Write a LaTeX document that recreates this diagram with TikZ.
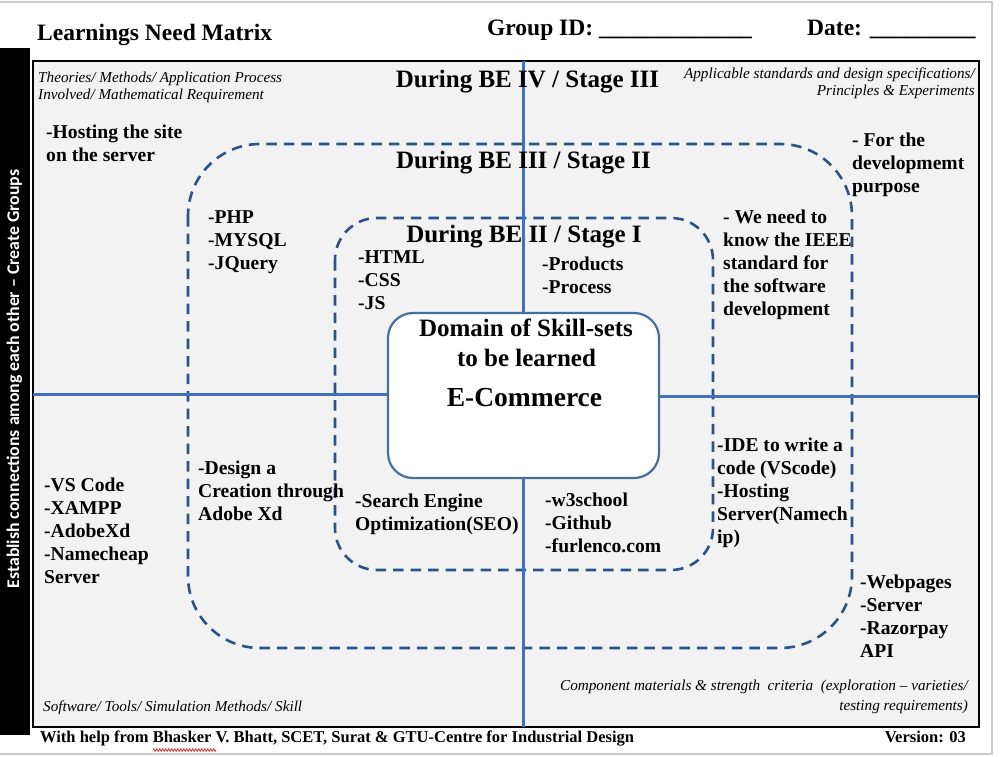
\documentclass[tikz,border=0pt]{standalone}
\usepackage{fontspec}
\setmainfont{Liberation Serif}
\newfontfamily\calib{Carlito}
\usetikzlibrary{decorations.pathmorphing}
\definecolor{panel}{RGB}{242,242,242}
\definecolor{axisblue}{RGB}{66,113,186}
\definecolor{dashblue}{RGB}{44,82,138}
\definecolor{boxblue}{RGB}{65,113,156}
\definecolor{framegray}{RGB}{204,204,204}
\definecolor{spellred}{RGB}{220,40,40}
\tikzset{
 item/.style={font=\bfseries\fontsize{19.6}{23}\selectfont, align=left, anchor=north west, inner sep=0pt},
 stagehead/.style={font=\bfseries\fontsize{25}{28}\selectfont, anchor=base, inner sep=0pt},
 cornerlbl/.style={font=\itshape\fontsize{15.2}{17}\selectfont, inner sep=0pt},
 headtxt/.style={font=\bfseries\fontsize{23.5}{26}\selectfont, anchor=base west, inner sep=0pt},
 foottxt/.style={font=\bfseries\fontsize{16.5}{18}\selectfont, inner sep=0pt},
 axisline/.style={draw=axisblue, line width=3pt},
 stageline/.style={draw=dashblue, line width=2.6pt, dash pattern=on 10.5pt off 7pt},
}
\begin{document}
\begin{tikzpicture}[x=1pt,y=-1pt]
\useasboundingbox (0,0) rectangle (1002,756);
% outer page frame
\draw[framegray, line width=2pt] (-2,2) -- (992,2) -- (992,754) -- (-2,754);
% header
\node[headtxt] (title) at (37,40) {Learnings Need Matrix};
\node[headtxt] (grp) at (487,35) {Group ID: \_\_\_\_\_\_\_\_\_\_\_\_\_};
\node[headtxt] (date) at (807,35) {Date: \_\_\_\_\_\_\_\_\_};
% left black bar
\fill[black] (0,48) rectangle (30,735);
\node[rotate=90, text=white, font=\calib\bfseries\fontsize{17.8}{20}\selectfont, inner sep=0pt] (est) at (14.5,379) {Establish connections among each other – Create Groups};
% main panel
\draw[fill=panel, draw=black, line width=2.5pt] (33,61) rectangle (979,727);
% stage rectangles
\draw[stageline, rounded corners=72pt] (188,144) rectangle (852,648);
\draw[stageline, rounded corners=42pt] (335,218) rectangle (713,570);
% centre box
\node[draw=boxblue, line width=2.2pt, fill=white, rounded corners=25pt, minimum width=271pt, minimum height=165pt, inner sep=0pt] (dom) at (523.5,395.5) {};
% axes
\coordinate (vt) at (523.5,61);
\coordinate (vb) at (523.5,727);
\coordinate (hl) at (33,394);
\coordinate (hr) at (979,396);
\draw[axisline] (vt) -- (dom.north);
\draw[axisline] (dom.south) -- (vb);
\draw[axisline] (hl) -- (dom.west |- hl);
\draw[axisline] (dom.east |- hr) -- (hr);
% centre texts
\node[font=\bfseries\fontsize{25}{28}\selectfont, anchor=base, inner sep=0pt] (dom1) at (526,336) {Domain of Skill-sets};
\node[font=\bfseries\fontsize{25}{28}\selectfont, anchor=base, inner sep=0pt] (dom2) at (526.5,366) {to be learned};
\node[font=\bfseries\fontsize{27.5}{30}\selectfont, anchor=base, inner sep=0pt] (ecom) at (524.5,406) {E-Commerce};
% stage headings
\node[stagehead] (s3) at (527.5,87) {During BE IV / Stage III};
\node[stagehead] (s2) at (523.5,168) {During BE III / Stage II};
\node[stagehead] (s1) at (524,242) {During BE II / Stage I};
% corner labels
\node[cornerlbl, align=left, anchor=north west] (ctl) at (38,70.1) {\strut Theories/ Methods/ Application Process\\Involved/ Mathematical Requirement};
\node[cornerlbl, align=right, anchor=north east] (ctr) at (975,66.1) {\strut Applicable standards and design specifications/\\Principles \& Experiments};
\node[cornerlbl, anchor=base west] (cbl) at (43,711) {Software/ Tools/ Simulation Methods/ Skill};
\node[cornerlbl, font=\itshape\fontsize{15.2}{20}\selectfont, align=right, anchor=north east] (cbr) at (968,676) {\strut Component materials \& strength\ \ criteria\ \ (exploration – varieties/\\testing requirements)};
% items
\node[item] (host) at (46,121.9) {\strut -Hosting the site\\on the server};
\node[item] (forp) at (852,129.9) {\strut - For the\\developmemt\\purpose};
\node[item] (php) at (208,206.9) {\strut -PHP\\-MYSQL\\-JQuery};
\node[item] (html) at (358,246.9) {\strut -HTML\\-CSS\\-JS};
\node[item] (prod) at (542,253.9) {\strut -Products\\-Process};
\node[item] (ieee) at (723,206.9) {\strut - We need to\\know the IEEE\\standard for\\the software\\development};
\node[item] (ide) at (717,434.9) {\strut -IDE to write a\\code (VScode)\\-Hosting\\Server(Namech\\ip)};
\node[item] (vsc) at (44,474.9) {\strut -VS Code\\-XAMPP\\-AdobeXd\\-Namecheap\\Server};
\node[item] (des) at (198,457.9) {\strut -Design a\\Creation through\\Adobe Xd};
\node[item] (seo) at (355,490.9) {\strut -Search Engine\\Optimization(SEO)};
\node[item] (w3s) at (545,489.9) {\strut -w3school\\-Github\\-furlenco.com};
\node[item] (web) at (860,571.9) {\strut -Webpages\\-Server\\-Razorpay\\API};
% footer
\node[foottxt, anchor=base west] (foot) at (40,742) {With help from Bhasker V. Bhatt, SCET, Surat \& GTU-Centre for Industrial Design};
\node[foottxt, anchor=base east] (ver) at (966,742) {Version: 03};
\coordinate (sp1) at (153,750);
\coordinate (sp2) at (216,750);
\draw[spellred, line width=0.8pt, decorate, decoration={zigzag, amplitude=1.2pt, segment length=3pt}] (sp1) -- (sp2);
\end{tikzpicture}
\end{document}
